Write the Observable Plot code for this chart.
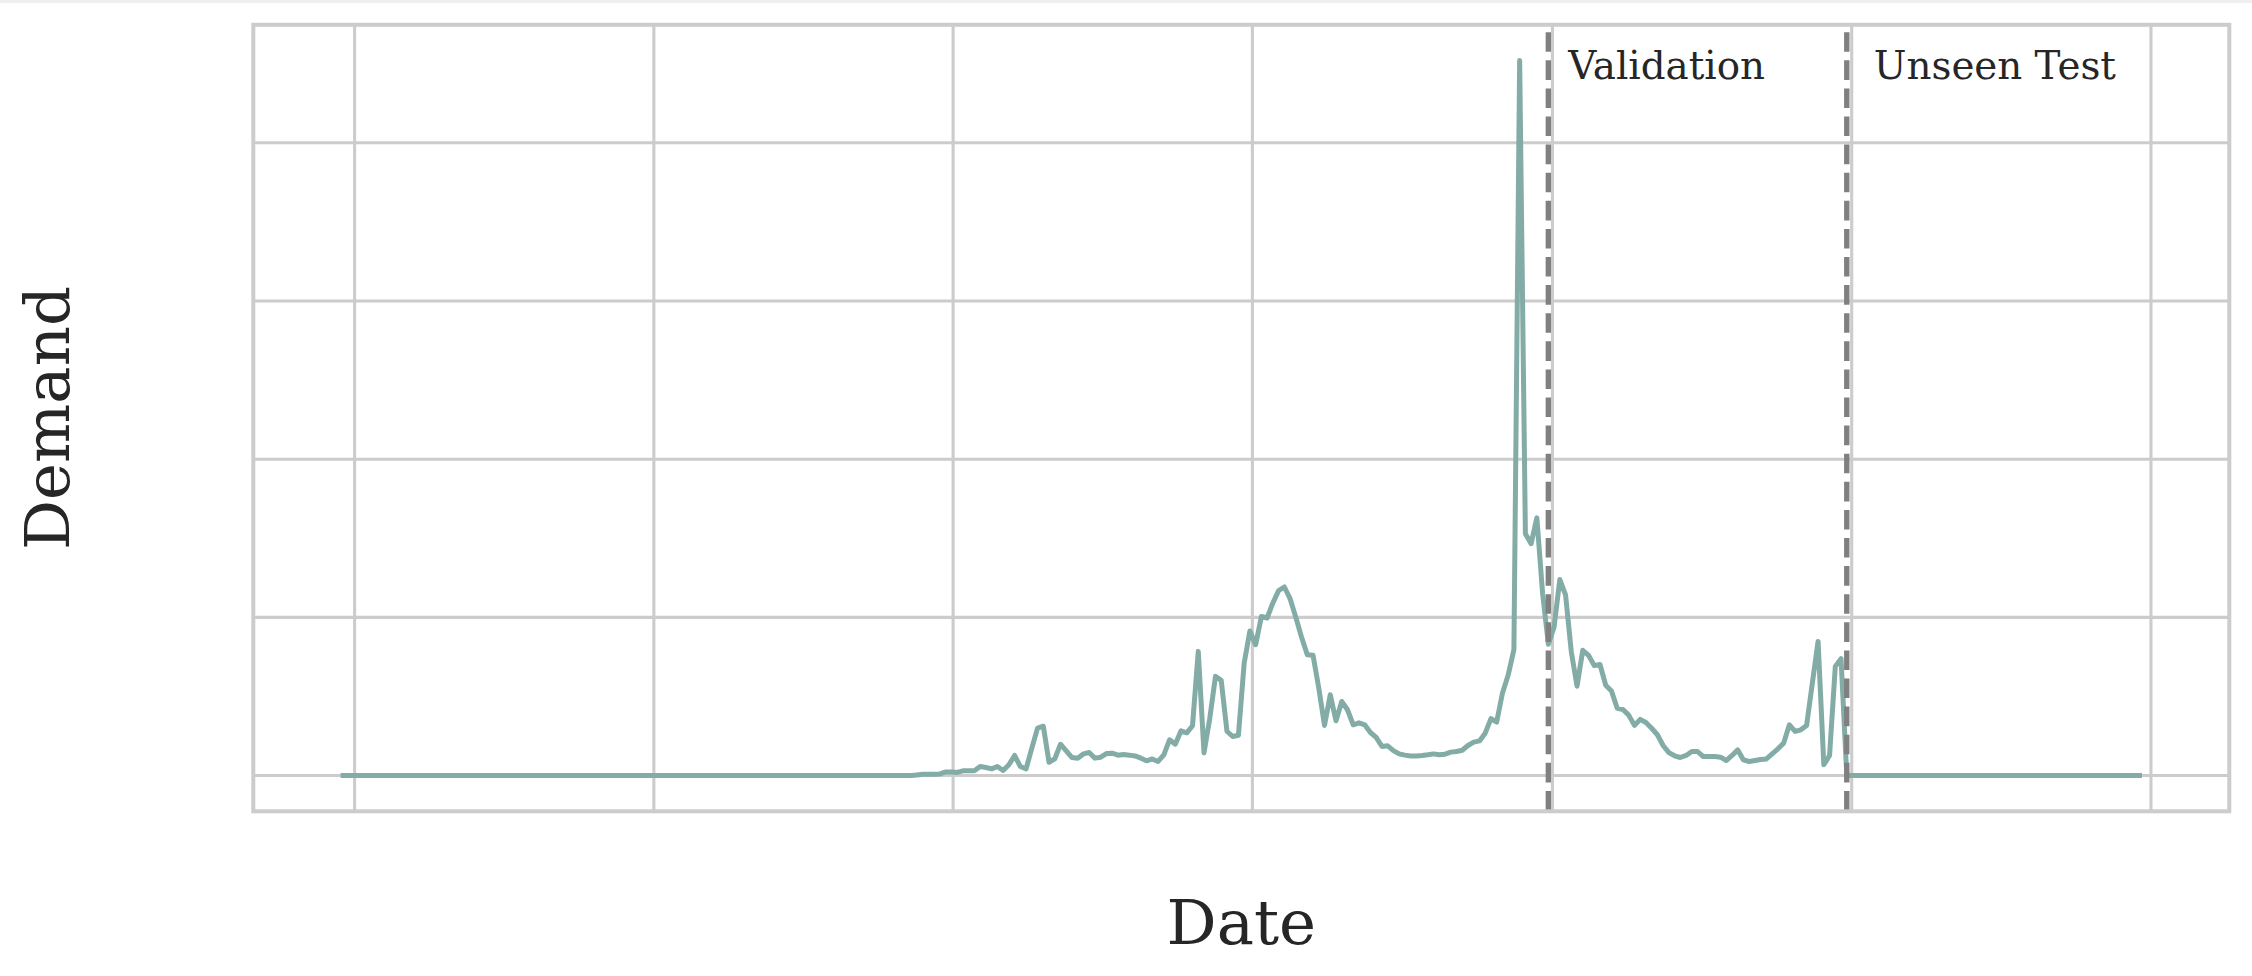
<!DOCTYPE html>
<html>
<head>
<meta charset="utf-8">
<script src="https://cdn.jsdelivr.net/npm/d3@7"></script>
<script src="https://cdn.jsdelivr.net/npm/@observablehq/plot@0.6"></script>
<style>
  html, body { margin: 0; padding: 0; background: #ffffff; }
  #wrap { border-top: 3px solid #efefef; width: 2252px; }
  svg { display: block; }
</style>
</head>
<body>
<div id="wrap"></div>
<script>
// ---- Data (weekly demand, first week ending 2016-12-18) ----
const startDate = "2016-12-18";

const trainDemand = [
  0, 0, 0, 0, 0, 0, 0, 0, 0, 0, 0, 0, 0, 0, 0, 0, 0, 0, 0, 0,
  0, 0, 0, 0, 0, 0, 0, 0, 0, 0, 0, 0, 0, 0, 0, 0, 0, 0, 0, 0,
  0, 0, 0, 0, 0, 0, 0, 0, 0, 0, 0, 0, 0, 0, 0, 0, 0, 0, 0, 0,
  0, 0, 0, 0, 0, 0, 0, 0, 0, 0, 0, 0, 0, 0, 0, 0, 0, 0, 0, 0,
  0, 0, 0, 0, 0, 0, 0, 0, 0, 0, 0, 0, 0, 0, 0, 0, 0, 0, 0, 0,
  0.4, 0.8, 0.8, 0.8, 1.0, 2.3, 2.3, 2.0, 3.0, 3.0,
  3.0, 5.7, 5.1, 4.2, 5.7, 3.2, 6.8, 12.7, 5.7, 4.2,
  17.3, 30.0, 31.2, 8.4, 10.5, 19.8, 15.6, 11.4, 11.0, 13.7,
  14.6, 11.0, 11.6, 13.9, 14.1, 12.9, 13.3, 12.9, 12.4, 11.0,
  9.3, 10.5, 8.9, 13.1, 22.6, 19.8, 28.3, 27.0, 31.5, 78.5,
  14.3, 36.0, 62.7, 60.2, 28.0, 24.7, 25.5, 71.1, 91.4, 82.7,
  100.6, 99.6, 109.1, 116.9, 119.2, 111.8, 100.0, 87.4, 76.4, 76.0,
  55.3, 31.7, 51.1, 34.6, 46.8, 41.6, 32.1, 33.3, 32.1, 27.2,
  24.1, 18.4, 18.8, 15.8, 13.7, 12.9, 12.4, 12.4, 12.7, 13.1,
  13.7, 13.1, 13.5, 14.8, 15.2, 16.0, 19.0, 21.1, 21.9, 26.8,
  36.0, 33.8, 52.1, 63.5, 79.6, 452.0, 152.9, 146.6, 162.9, 115.1
];

const validationDemand = [
  83.0, 94.0, 123.9, 114.2, 78.2, 56.5, 79.2, 76.0, 69.5, 70.2,
  57.1, 53.5, 42.5, 41.8, 38.2, 31.7, 35.5, 33.5, 29.9, 25.8,
  19.0, 14.5, 12.5, 11.4, 12.7, 15.2, 15.2, 12.0, 12.0, 12.0,
  11.6, 9.5, 12.7, 16.2, 9.9, 8.9, 9.5, 10.1, 10.5, 13.7,
  16.9, 20.5, 32.1, 27.9, 28.9, 31.7, 58.4, 84.8, 6.8, 12.7,
  69.0, 73.9
];

const testDemand = [
  0, 0, 0, 0, 0, 0, 0, 0, 0, 0, 0, 0, 0, 0, 0, 0, 0, 0, 0, 0,
  0, 0, 0, 0, 0, 0, 0, 0, 0, 0, 0, 0, 0, 0, 0, 0, 0, 0, 0, 0,
  0, 0, 0, 0, 0, 0, 0, 0, 0, 0, 0, 0
];

const splitDates = ["2020-12-27", "2021-12-26"];
const splitLabels = ["Validation", "Unseen Test"];

const xTickYears = [2017, 2018, 2019, 2020, 2021, 2022, 2023];
const yTicks = [0, 100, 200, 300, 400];

const xLabel = "Date";
const yLabel = "Demand";

// ---- Build tables ----
const demand = [...trainDemand, ...validationDemand, ...testDemand];
const start = new Date(startDate);
const series = demand.map((v, i) => ({date: d3.utcWeek.offset(start, i), value: v}));
const splits = splitDates.map((d, i) => ({date: new Date(d), label: splitLabels[i]}));
const xTicks = xTickYears.map(y => new Date(Date.UTC(y, 0, 1)));

const [x0, x1] = d3.extent(series, d => d.date);
const xPad = (x1 - x0) * 0.05;
const yMax = d3.max(demand);
const yMin = d3.min(demand);
const yPad = (yMax - yMin) * 0.05;

const ink = "#262626";
const gridColor = "#cccccc";
const font = "DejaVu Serif";

const chart = Plot.plot({
  width: 2252,
  height: 973,
  marginLeft: 252.8,
  marginRight: 23.2,
  marginTop: 21.3,
  marginBottom: 165.2,
  style: {fontFamily: font, background: "#ffffff", color: ink},
  x: {type: "utc", domain: [new Date(+x0 - xPad), new Date(+x1 + xPad)], axis: null},
  y: {domain: [yMin - yPad, yMax + yPad], axis: null},
  marks: [
    Plot.gridX(xTicks, {stroke: gridColor, strokeOpacity: 1, strokeWidth: 3.1}),
    Plot.gridY(yTicks, {stroke: gridColor, strokeOpacity: 1, strokeWidth: 3.1}),
    Plot.line(series, {
      x: "date", y: "value",
      stroke: "#83aca6", strokeWidth: 5,
      strokeLinecap: "square", strokeLinejoin: "round"
    }),
    Plot.ruleX(splits, {
      x: "date", stroke: "#808080", strokeWidth: 5.4,
      strokeDasharray: "19.6,8.5", strokeDashoffset: 20.2
    }),
    Plot.frame({stroke: gridColor, strokeWidth: 4}),
    Plot.text(splits.slice(0, 1), {
      x: "date", text: "label", frameAnchor: "top",
      textAnchor: "start", lineAnchor: "bottom",
      dx: 20, dy: 54, fontSize: 38.8, fill: ink
    }),
    Plot.text(splits.slice(1), {
      x: "date", text: "label", frameAnchor: "top",
      textAnchor: "start", lineAnchor: "bottom",
      dx: 27, dy: 54, fontSize: 38.8, fill: ink
    }),
    Plot.text([xLabel], {
      text: d => d, frameAnchor: "bottom",
      textAnchor: "middle", lineAnchor: "bottom",
      dy: 133, fontSize: 62.5, fill: ink
    }),
    Plot.text([yLabel], {
      text: d => d, frameAnchor: "left", rotate: -90,
      textAnchor: "middle", lineAnchor: "bottom",
      dx: -184.5, fontSize: 62.5, fill: ink
    })
  ]
});

document.getElementById("wrap").appendChild(chart);
</script>
</body>
</html>
